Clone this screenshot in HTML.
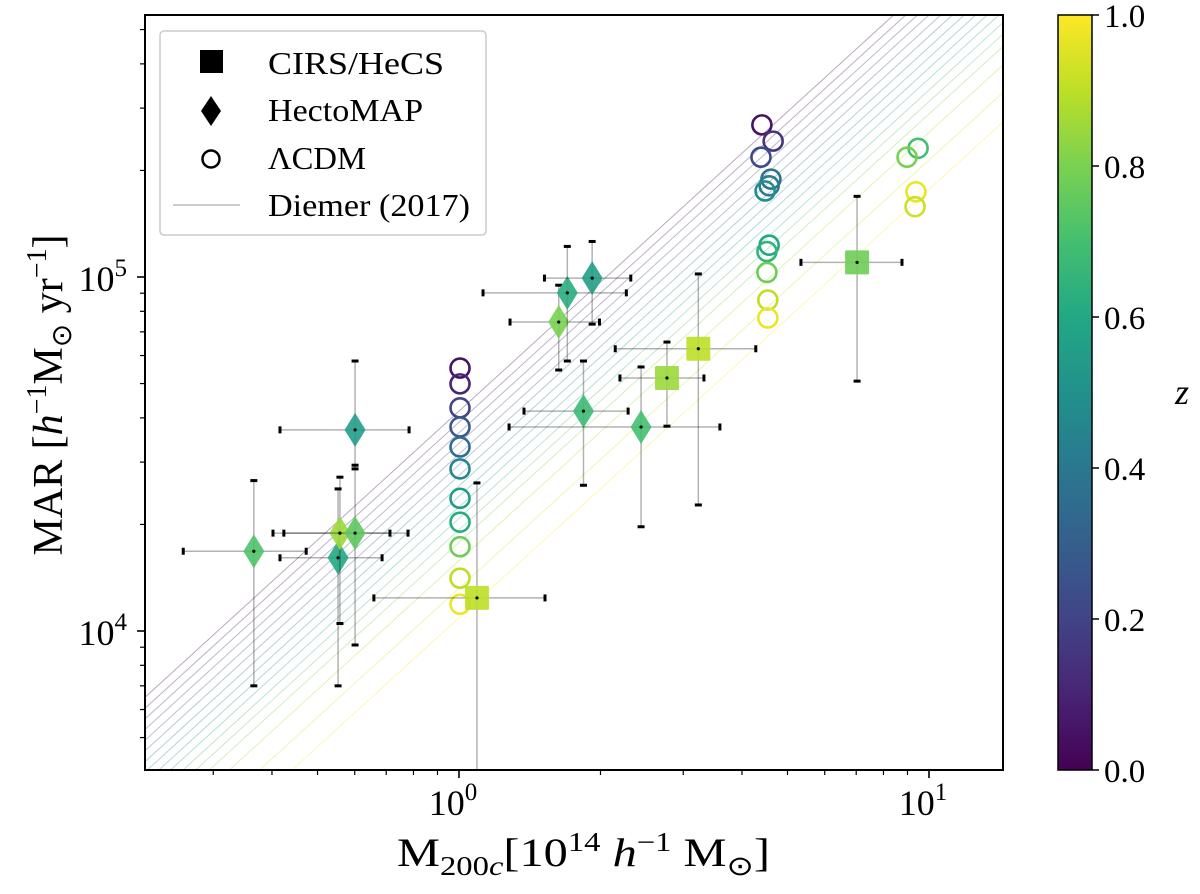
<!DOCTYPE html>
<html><head><meta charset="utf-8"><style>
html,body{margin:0;padding:0;background:#fff;overflow:hidden;width:1200px;height:894px;}
svg{display:block;font-family:"Liberation Serif",serif;}
</style></head><body>
<svg id="chart" width="1200" height="894" viewBox="0 0 1200 894" xmlns="http://www.w3.org/2000/svg">
<defs>
<linearGradient id="vir" x1="0" y1="1" x2="0" y2="0">
<stop offset="0" stop-color="#440154"/><stop offset="0.1" stop-color="#482475"/><stop offset="0.2" stop-color="#414487"/><stop offset="0.3" stop-color="#355f8d"/><stop offset="0.4" stop-color="#2a788e"/><stop offset="0.5" stop-color="#21918c"/><stop offset="0.6" stop-color="#22a884"/><stop offset="0.7" stop-color="#44bf70"/><stop offset="0.8" stop-color="#7ad151"/><stop offset="0.9" stop-color="#bddf26"/><stop offset="1" stop-color="#fde725"/>
</linearGradient>
<clipPath id="plotclip"><rect x="145" y="15" width="858" height="755"/></clipPath>
</defs>
<g id="diemer" clip-path="url(#plotclip)"></g>
<g id="marks" clip-path="url(#plotclip)"></g>
<rect x="145" y="15" width="858" height="755" fill="none" stroke="#000" stroke-width="2"/>
<g id="axes"></g>
<text x="397" y="866" font-size="40" textLength="373" lengthAdjust="spacingAndGlyphs">M<tspan font-size="27" dy="9">200<tspan font-style="italic">c</tspan></tspan><tspan dy="-9">[10</tspan><tspan font-size="27" dy="-15">14</tspan><tspan dy="15"> </tspan><tspan font-style="italic">h</tspan><tspan font-size="27" dy="-15">−1</tspan><tspan dy="15"> M</tspan><tspan font-size="27" dy="9">⊙</tspan><tspan dy="-9">]</tspan></text>
<text transform="translate(62,395) rotate(-90)" font-size="42" text-anchor="middle">MAR [<tspan font-style="italic">h</tspan><tspan font-size="28" dy="-16">−1</tspan><tspan dy="16">M</tspan><tspan font-size="28" dy="9">⊙</tspan><tspan dy="-9"> yr</tspan><tspan font-size="28" dy="-16">−1</tspan><tspan dy="16">]</tspan></text>
<g>
<rect x="160" y="31" width="326" height="204" rx="4" fill="#fff" fill-opacity="0.85" stroke="#ccc" stroke-width="1.5"/>
<rect x="200" y="50" width="23" height="23" fill="#000"/>
<text x="268" y="74" font-size="32" textLength="176" lengthAdjust="spacingAndGlyphs">CIRS/HeCS</text>
<polygon points="211,96 221,111 211,126 201,111" fill="#000"/>
<text x="268" y="121" font-size="32" textLength="155" lengthAdjust="spacingAndGlyphs">HectoMAP</text>
<circle cx="211" cy="159" r="8.5" fill="none" stroke="#000" stroke-width="2.5"/>
<text x="268" y="169" font-size="32" textLength="98" lengthAdjust="spacingAndGlyphs">ΛCDM</text>
<line x1="173" y1="205" x2="240" y2="205" stroke="#999" stroke-width="1"/>
<text x="268" y="216" font-size="32" textLength="202" lengthAdjust="spacingAndGlyphs">Diemer (2017)</text>
</g>
<g>
<rect x="1058" y="15" width="34" height="755" fill="url(#vir)" stroke="#000" stroke-width="1.5"/>
<g id="cbticks"></g>
<text x="1182" y="404" font-size="36" font-style="italic" text-anchor="middle">z</text>
</g>
</svg>
<script>
// ---- data ----
const sqMass = [1.092, 2.77, 3.23, 7.03];
const sqMar = [12400, 51850, 62700, 110000];
const sqMassLo = [0.659, 2.20, 2.15, 5.34];
const sqMassHi = [1.524, 3.32, 4.28, 8.76];
const sqMarLo = [3000, 37900, 22700, 50800];
const sqMarHi = [26200, 65500, 102000, 169000];
const sqZ = [0.9, 0.85, 0.9, 0.78];

const dmMass = [0.366, 0.553, 0.558, 0.601, 0.601, 1.63, 1.70, 1.92, 1.84, 2.44];
const dmMar = [16800, 16100, 18900, 18900, 37000, 74600, 90200, 99300, 41800, 37700];
const dmMassLo = [0.259, 0.416, 0.402, 0.424, 0.416, 1.284, 1.125, 1.52, 1.375, 1.278];
const dmMassHi = [0.473, 0.686, 0.713, 0.779, 0.783, 1.99, 2.27, 2.32, 2.29, 3.59];
const dmMarLo = [7000, 7000, 10500, 9130, 28700, 54600, 57900, 73600, 25800, 19700];
const dmMarHi = [26600, 25200, 27200, 29400, 57900, 94800, 122000, 126000, 57900, 55700];
const dmZ = [0.72, 0.6, 0.85, 0.75, 0.55, 0.8, 0.62, 0.55, 0.68, 0.7];

const lcMass = [1.005,1.005,1.005,1.005,1.005,1.005,1.005,1.005,1.005,1.005,1.005,
  4.41,4.66,4.39,4.61,4.57,4.48,4.57,4.52,4.52,4.54,4.54, 9.48,8.98,9.38,9.34];
const lcMar = [55300,49900,42700,37700,33100,28700,23700,20300,17300,14100,11900,
  269000,242000,218000,189000,181000,175000,123000,118000,103000,86100,76600, 231000,218000,174000,158000];
const lcZ = [0.05,0.1,0.2,0.28,0.35,0.45,0.55,0.62,0.78,0.9,0.98,
  0.05,0.15,0.22,0.38,0.42,0.48,0.6,0.65,0.78,0.9,0.97, 0.7,0.8,0.97,0.92];

const diemerZ = [0,0.067,0.133,0.2,0.267,0.333,0.4,0.467,0.533,0.6,0.667,0.733,0.8,0.867,0.933,1.0];
const diemerNorm = [41800,38900,36300,33900,31600,29500,27500,25700,24000,22400,20800,19300,17800,15800,13200,10900];
const diemerSlope = 1.21;

const xTickVals = [1, 10];
const xTickLabels = ["0", "1"];
const yTickVals = [1e4, 1e5];
const yTickLabels = ["4", "5"];
const cbTickVals = [0, 0.2, 0.4, 0.6, 0.8, 1.0];
const cbTickLabels = ["0.0", "0.2", "0.4", "0.6", "0.8", "1.0"];

// ---- scales ----
const X0 = 459, XDEC = 470, Y0 = 631, YDEC = 354;
function sx(v){ return X0 + Math.log10(v) * XDEC; }
function sy(v){ return Y0 - (Math.log10(v) - 4) * YDEC; }
const VIR = ["#440154","#482475","#414487","#355f8d","#2a788e","#21918c","#22a884","#44bf70","#7ad151","#bddf26","#fde725"];
function hex(c){ return [parseInt(c.substr(1,2),16),parseInt(c.substr(3,2),16),parseInt(c.substr(5,2),16)]; }
function viridis(t){
  t = Math.max(0, Math.min(1, t)) * 10;
  const i = Math.min(9, Math.floor(t)), f = t - i;
  const a = hex(VIR[i]), b = hex(VIR[i+1]);
  return "rgb(" + a.map((v,k)=>Math.round(v + (b[k]-v)*f)).join(",") + ")";
}
const NS = "http://www.w3.org/2000/svg";
function mk(tag, attrs, parent){
  const e = document.createElementNS(NS, tag);
  for (const k in attrs) e.setAttribute(k, attrs[k]);
  parent.appendChild(e);
  return e;
}

// ---- diemer lines ----
const gD = document.getElementById("diemer");
diemerZ.forEach((z, i) => {
  const m1 = 0.1, m2 = 30;
  const y1 = diemerNorm[i] * Math.pow(m1, diemerSlope), y2 = diemerNorm[i] * Math.pow(m2, diemerSlope);
  const l = mk("line", {x1: sx(m1), y1: sy(y1), x2: sx(m2), y2: sy(y2), stroke: viridis(z), "stroke-width": 1, "stroke-opacity": 0.35}, gD);
  
  
});

const gM = document.getElementById("marks");
function errorbars(mass, mar, mlo, mhi, ylo, yhi, name){
  const g = mk("g", {}, gM);
  
  
  const cx = sx(mass), cy = sy(mar);
  mk("line", {x1: sx(mlo), y1: cy, x2: sx(mhi), y2: cy, stroke: "#000", "stroke-opacity": 0.3, "stroke-width": 1.5}, g);
  mk("line", {x1: cx, y1: sy(ylo), x2: cx, y2: sy(yhi), stroke: "#000", "stroke-opacity": 0.3, "stroke-width": 1.5}, g);
  mk("rect", {x: sx(mlo)-1.5, y: cy-3.5, width: 3, height: 7, fill: "#000"}, g);
  mk("rect", {x: sx(mhi)-1.5, y: cy-3.5, width: 3, height: 7, fill: "#000"}, g);
  mk("rect", {x: cx-3.5, y: sy(ylo)-1.5, width: 7, height: 3, fill: "#000"}, g);
  mk("rect", {x: cx-3.5, y: sy(yhi)-1.5, width: 7, height: 3, fill: "#000"}, g);
}

// ---- lcdm circles ----
lcMass.forEach((m, i) => {
  const c = mk("circle", {cx: sx(m), cy: sy(lcMar[i]), r: 9.5, fill: "none", stroke: viridis(lcZ[i]), "stroke-width": 2.6}, gM);
  
  
});

// ---- hectomap diamonds ----
dmMass.forEach((m, i) => {
  errorbars(m, dmMar[i], dmMassLo[i], dmMassHi[i], dmMarLo[i], dmMarHi[i], 'hectomap-errorbar');
  const cx = sx(m), cy = sy(dmMar[i]);
  const p = mk("polygon", {points: `${cx},${cy-17} ${cx+10.5},${cy} ${cx},${cy+17} ${cx-10.5},${cy}`, fill: viridis(dmZ[i]), "fill-opacity": 0.9}, gM);
  
  
  mk("circle", {cx: cx, cy: cy, r: 1.6, fill: "#000"}, gM);
});

// ---- cirs squares ----
sqMass.forEach((m, i) => {
  errorbars(m, sqMar[i], sqMassLo[i], sqMassHi[i], sqMarLo[i], sqMarHi[i], 'cirs-errorbar');
  const cx = sx(m), cy = sy(sqMar[i]);
  const r = mk("rect", {x: cx-12, y: cy-12, width: 24, height: 24, rx: 1, fill: viridis(sqZ[i]), "fill-opacity": 0.9}, gM);
  
  
  mk("circle", {cx: cx, cy: cy, r: 1.6, fill: "#000"}, gM);
});

// ---- axes ----
const gA = document.getElementById("axes");
const BOT = 770, LEFT = 145;
for (let d = -1; d <= 1; d++) {
  for (let k = 1; k <= 9; k++) {
    const v = k * Math.pow(10, d), x = sx(v);
    if (x < LEFT || x > 1003) continue;
    const major = k === 1;
    const t = mk("line", {x1: x, y1: BOT, x2: x, y2: BOT + (major ? 8 : 5), stroke: "#000", "stroke-width": major ? 1.6 : 1.2}, gA);
    
    
  }
}
for (let d = 3; d <= 5; d++) {
  for (let k = 1; k <= 9; k++) {
    const v = k * Math.pow(10, d), y = sy(v);
    if (y < 15 || y > BOT) continue;
    const major = k === 1;
    const t = mk("line", {x1: LEFT, y1: y, x2: LEFT - (major ? 8 : 5), y2: y, stroke: "#000", "stroke-width": major ? 1.6 : 1.2}, gA);
    
    
  }
}
xTickVals.forEach((v, i) => {
  const t = mk("text", {x: sx(v) - 6, y: 815, "font-size": 36, "text-anchor": "middle"}, gA);
  
  
  t.textContent = "10";
  const s = mk("tspan", {"font-size": 25, dy: -15}, t);
  s.textContent = xTickLabels[i];
});
yTickVals.forEach((v, i) => {
  const t = mk("text", {x: 127, y: sy(v) + 14, "font-size": 36, "text-anchor": "end"}, gA);
  
  
  t.textContent = "10";
  const s = mk("tspan", {"font-size": 25, dy: -15}, t);
  s.textContent = yTickLabels[i];
});
const gC = document.getElementById("cbticks");
cbTickVals.forEach((v, i) => {
  const y = 770 - v * 755;
  const l = mk("line", {x1: 1092, y1: y, x2: 1099, y2: y, stroke: "#000", "stroke-width": 1.5}, gC);
  
  
  const t = mk("text", {x: 1104, y: y + 12, "font-size": 33}, gC);
  
  
  t.textContent = cbTickLabels[i];
});
</script>
</body></html>
